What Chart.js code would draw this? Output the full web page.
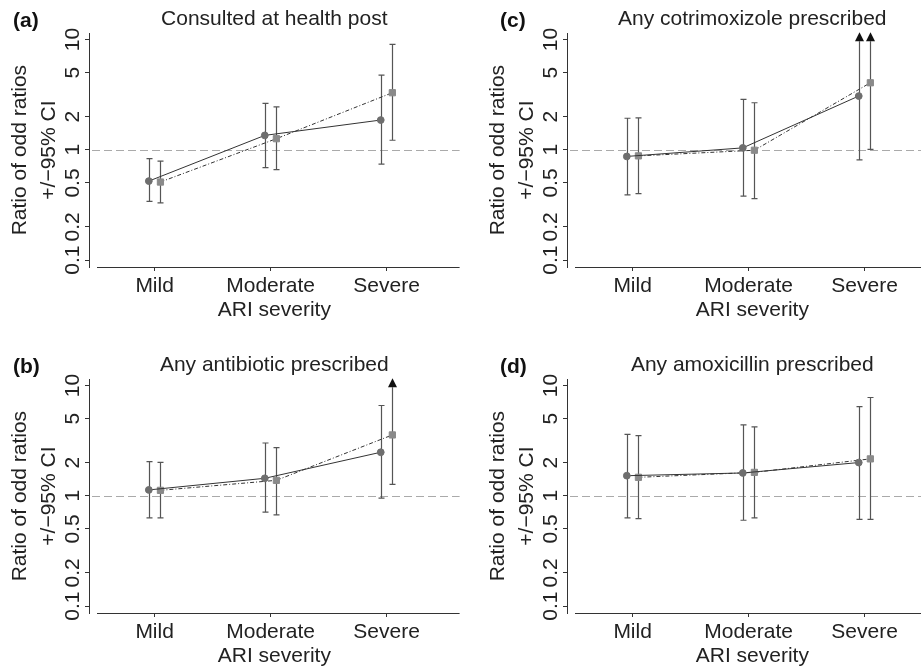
<!DOCTYPE html>
<html>
<head>
<meta charset="utf-8">
<script src="https://cdn.jsdelivr.net/npm/chart.js@4.4.1/dist/chart.umd.min.js"></script>
<style>
  html, body { margin: 0; padding: 0; background: #fff; overflow: hidden; }
  body { width: 921px; height: 669px; position: relative; }
  canvas { position: absolute; }
</style>
</head>
<body>
<canvas id="chartA" width="465" height="323" style="left:0;top:0"></canvas>
<canvas id="chartC" width="465" height="323" style="left:478px;top:0"></canvas>
<canvas id="chartB" width="465" height="323" style="left:0;top:346px"></canvas>
<canvas id="chartD" width="465" height="323" style="left:478px;top:346px"></canvas>
<script>
var severity = ["Mild", "Moderate", "Severe"];
var yTickValues = [0.1, 0.2, 0.5, 1, 2, 5, 10];
var refValue = 1;

// (a) consulted at health post
var healthPostCircle = [0.52, 1.35, 1.86];
var healthPostCircleLow = [0.34, 0.69, 0.74];
var healthPostCircleHigh = [0.83, 2.63, 4.76];
var healthPostSquare = [0.51, 1.26, 3.29];
var healthPostSquareLow = [0.33, 0.66, 1.22];
var healthPostSquareHigh = [0.79, 2.45, 9.03];

// (b) any antibiotic (null = upper limit off the scale)
var antibioticCircle = [1.13, 1.44, 2.48];
var antibioticCircleLow = [0.63, 0.71, 0.95];
var antibioticCircleHigh = [2.04, 3.01, 6.58];
var antibioticSquare = [1.12, 1.38, 3.56];
var antibioticSquareLow = [0.63, 0.67, 1.27];
var antibioticSquareHigh = [2.01, 2.73, null];

// (c) any cotrimoxizole
var cotrimCircle = [0.87, 1.04, 3.07];
var cotrimCircleLow = [0.39, 0.38, 0.81];
var cotrimCircleHigh = [1.93, 2.86, null];
var cotrimSquare = [0.88, 0.99, 4.05];
var cotrimSquareLow = [0.40, 0.36, 1.01];
var cotrimSquareHigh = [1.95, 2.67, null];

// (d) any amoxicillin
var amoxCircle = [1.52, 1.61, 2.0];
var amoxCircleLow = [0.63, 0.60, 0.61];
var amoxCircleHigh = [3.61, 4.39, 6.44];
var amoxSquare = [1.47, 1.63, 2.16];
var amoxSquareLow = [0.62, 0.63, 0.61];
var amoxSquareHigh = [3.51, 4.21, 7.78];

var fontFamily = "'Liberation Sans', Arial, Helvetica, sans-serif";
Chart.defaults.font.family = fontFamily;
Chart.defaults.color = "#222";

var shift = 0.05;

function makeDatasets(est1, lo1, hi1, est2, lo2, hi2) {
  return [
    {
      data: est1.map(function (v, i) { return { x: i + 1 - shift, y: v }; }),
      ciLow: lo1, ciHigh: hi1,
      borderColor: "#333", borderWidth: 1,
      pointStyle: "circle", pointRadius: 3.4,
      pointBackgroundColor: "#6e6e6e", pointBorderColor: "#6e6e6e", pointBorderWidth: 1
    },
    {
      data: est2.map(function (v, i) { return { x: i + 1 + shift, y: v }; }),
      ciLow: lo2, ciHigh: hi2,
      borderColor: "#333", borderWidth: 1, borderDash: [4, 2, 1, 2],
      pointStyle: "rect", pointRadius: 4.4,
      pointBackgroundColor: "#8a8a8a", pointBorderColor: "#8a8a8a", pointBorderWidth: 1
    }
  ];
}

var errorBars = {
  id: "errorBars",
  beforeDatasetsDraw: function (chart) {
    var ctx = chart.ctx;
    var yScale = chart.scales.y;
    var area = chart.chartArea;
    ctx.save();
    // reference line at 1
    var yRef = Math.round(yScale.getPixelForValue(refValue)) + 0.5;
    ctx.strokeStyle = "#aaa";
    ctx.lineWidth = 1;
    ctx.setLineDash([8, 4]);
    ctx.beginPath();
    ctx.moveTo(area.left + 3, yRef);
    ctx.lineTo(area.right, yRef);
    ctx.stroke();
    ctx.setLineDash([]);

    chart.data.datasets.forEach(function (ds, d) {
      var meta = chart.getDatasetMeta(d);
      meta.data.forEach(function (pt, i) {
        var x = Math.round(pt.x) + 0.5;
        var yLo = yScale.getPixelForValue(ds.ciLow[i]);
        var hi = ds.ciHigh[i];
        ctx.strokeStyle = "#555";
        ctx.lineWidth = 1.2;
        ctx.beginPath();
        if (hi === null) {
          var tip = area.top - 1;
          var base = tip + 9;
          ctx.moveTo(x, yLo);
          ctx.lineTo(x, base);
          ctx.moveTo(x - 3, yLo);
          ctx.lineTo(x + 3, yLo);
          ctx.stroke();
          ctx.fillStyle = "#111";
          ctx.beginPath();
          ctx.moveTo(x, tip);
          ctx.lineTo(x - 4.5, base);
          ctx.lineTo(x + 4.5, base);
          ctx.closePath();
          ctx.fill();
        } else {
          var yHi = yScale.getPixelForValue(hi);
          ctx.moveTo(x, yLo);
          ctx.lineTo(x, yHi);
          ctx.moveTo(x - 3, yLo);
          ctx.lineTo(x + 3, yLo);
          ctx.moveTo(x - 3, yHi);
          ctx.lineTo(x + 3, yHi);
          ctx.stroke();
        }
      });
    });
    ctx.restore();
  },
  afterDraw: function (chart) {
    var ctx = chart.ctx;
    var area = chart.chartArea;
    var yScale = chart.scales.y;
    ctx.save();
    // x axis line, detached from the y axis like the original
    ctx.strokeStyle = "#333";
    ctx.lineWidth = 1;
    ctx.beginPath();
    ctx.moveTo(area.left + 8, Math.round(area.bottom) + 0.5);
    ctx.lineTo(area.right, Math.round(area.bottom) + 0.5);
    ctx.stroke();

    // y tick labels, turned to read upwards
    ctx.fillStyle = "#222";
    ctx.font = "21px " + fontFamily;
    ctx.textAlign = "center";
    ctx.textBaseline = "middle";
    yScale.ticks.forEach(function (t) {
      var y = yScale.getPixelForValue(t.value);
      ctx.save();
      ctx.translate(area.left - 16, y);
      ctx.rotate(-Math.PI / 2);
      ctx.fillText(String(t.value), 0, 0);
      ctx.restore();
    });

    // panel letter
    var opts = chart.options.plugins.errorBars;
    ctx.fillStyle = "#111";
    ctx.font = "bold 21px " + fontFamily;
    ctx.textAlign = "left";
    ctx.fillText(opts.letter, opts.letterX, 21);
    ctx.restore();
  }
};

function makeChart(id, letter, letterX, title, datasets) {
  var ctx = document.getElementById(id).getContext("2d");
  return new Chart(ctx, {
    type: "line",
    data: { datasets: datasets },
    options: {
      responsive: false,
      animation: false,
      layout: { padding: { left: 0, right: 3, top: 0, bottom: 0 } },
      plugins: {
        legend: { display: false },
        tooltip: { enabled: false },
        title: {
          display: true,
          text: title,
          fullSize: false,
          color: "#222",
          font: { size: 21, weight: "normal", lineHeight: 1.2 },
          padding: { top: 7, bottom: 1 }
        },
        errorBars: { letter: letter, letterX: letterX }
      },
      scales: {
        x: {
          type: "linear",
          min: 0.434,
          max: 3.63,
          afterBuildTicks: function (scale) {
            scale.ticks = severity.map(function (s, i) { return { value: i + 1 }; });
          },
          afterFit: function (scale) { scale.height = 56; },
          border: { display: false },
          grid: { drawOnChartArea: false, tickLength: 4, color: "#333" },
          ticks: {
            padding: 3,
            autoSkip: false,
            maxRotation: 0,
            color: "#222",
            font: { size: 21 },
            callback: function (v) { return severity[Math.round(v) - 1]; }
          },
          title: { display: true, text: "ARI severity", color: "#222", font: { size: 21 }, padding: 0 }
        },
        y: {
          type: "logarithmic",
          min: 0.0865,
          max: 11.4,
          afterBuildTicks: function (scale) {
            scale.ticks = yTickValues.map(function (v) { return { value: v }; });
          },
          afterFit: function (scale) { scale.width = 89; },
          border: { display: true, color: "#333", width: 1 },
          grid: { drawOnChartArea: false, tickLength: 4, color: "#333" },
          ticks: { display: false },
          title: {
            display: true,
            text: ["Ratio of odd ratios", "+/\u221295% CI"],
            color: "#222",
            font: { size: 21, lineHeight: 1.38 },
            padding: { top: 6, bottom: 0 }
          }
        }
      }
    },
    plugins: [errorBars]
  });
}

makeChart("chartA", "(a)", 13, "Consulted at health post",
  makeDatasets(healthPostCircle, healthPostCircleLow, healthPostCircleHigh,
    healthPostSquare, healthPostSquareLow, healthPostSquareHigh));
makeChart("chartB", "(b)", 13, "Any antibiotic prescribed",
  makeDatasets(antibioticCircle, antibioticCircleLow, antibioticCircleHigh,
    antibioticSquare, antibioticSquareLow, antibioticSquareHigh));
makeChart("chartC", "(c)", 22, "Any cotrimoxizole prescribed",
  makeDatasets(cotrimCircle, cotrimCircleLow, cotrimCircleHigh,
    cotrimSquare, cotrimSquareLow, cotrimSquareHigh));
makeChart("chartD", "(d)", 22, "Any amoxicillin prescribed",
  makeDatasets(amoxCircle, amoxCircleLow, amoxCircleHigh,
    amoxSquare, amoxSquareLow, amoxSquareHigh));
</script>
</body>
</html>
